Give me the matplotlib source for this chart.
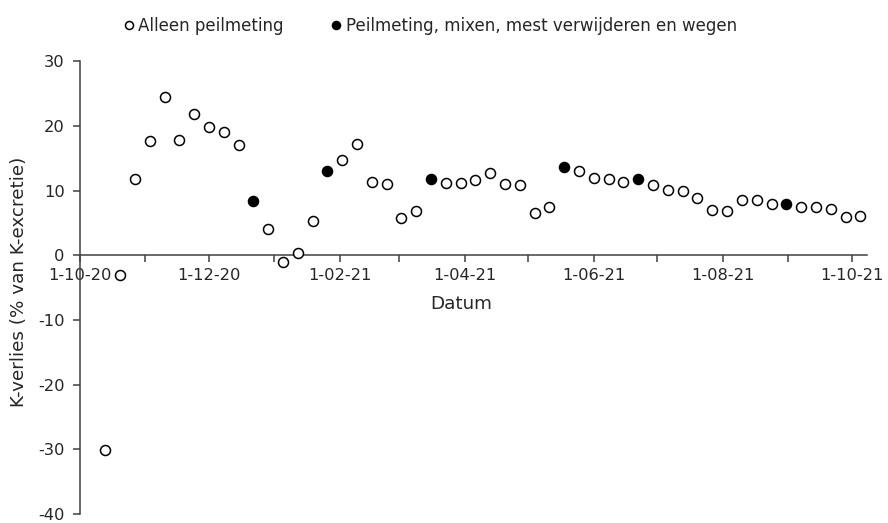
import matplotlib

matplotlib.use("Agg")
import matplotlib.pyplot as plt
import matplotlib.dates as mdates
import numpy as np
import pandas as pd

# Weekly measurements, Oct 2020 - Oct 2021
dates = [
    "2020-10-13", "2020-10-20", "2020-10-27", "2020-11-03", "2020-11-10", "2020-11-17",
    "2020-11-24", "2020-12-01", "2020-12-08", "2020-12-15", "2020-12-22", "2020-12-29",
    "2021-01-05", "2021-01-12", "2021-01-19", "2021-01-26", "2021-02-02", "2021-02-09",
    "2021-02-16", "2021-02-23", "2021-03-02", "2021-03-09", "2021-03-16", "2021-03-23",
    "2021-03-30", "2021-04-06", "2021-04-13", "2021-04-20", "2021-04-27", "2021-05-04",
    "2021-05-11", "2021-05-18", "2021-05-25", "2021-06-01", "2021-06-08", "2021-06-15",
    "2021-06-22", "2021-06-29", "2021-07-06", "2021-07-13", "2021-07-20", "2021-07-27",
    "2021-08-03", "2021-08-10", "2021-08-17", "2021-08-24", "2021-08-31", "2021-09-07",
    "2021-09-14", "2021-09-21", "2021-09-28", "2021-10-05",
]
k_loss = [
    -30.1, -3.1, 11.8, 17.7, 24.5, 17.8,
    21.8, 19.9, 19.0, 17.0, 8.4, 4.0,
    -1.0, 0.4, 5.3, 13.1, 14.8, 17.2,
    11.4, 11.0, 5.7, 6.8, 11.8, 11.1,
    11.2, 11.6, 12.7, 11.0, 10.9, 6.6,
    7.5, 13.6, 13.0, 12.0, 11.8, 11.4,
    11.8, 10.9, 10.05, 10.0, 8.8, 7.0,
    6.8, 8.5, 8.5, 8.0, 7.95, 7.5,
    7.5, 7.1, 5.9, 6.15,
]
# dates with full treatment (mixing, manure removal, weighing)
full_dates = ["2020-12-22", "2021-01-26", "2021-03-16", "2021-05-18", "2021-06-22", "2021-08-31"]

x = pd.to_datetime(dates)
y = np.array(k_loss)
full = x.isin(pd.to_datetime(full_dates))

INK = "#262626"
AXIS = "#404040"

plt.rcParams.update({"font.family": "DejaVu Sans", "font.size": 12, "text.color": INK,
                     "axes.unicode_minus": False})

fig = plt.figure(figsize=(8.88, 5.23), dpi=100)
ax = fig.add_axes([0.09, 0.017, 0.886, 0.866])

ax.plot(x[~full], y[~full], "o", ms=7.2, mfc="white", mec="black", mew=1.1,
        ls="none", label="Alleen peilmeting", clip_on=False, zorder=3)
ax.plot(x[full], y[full], "o", ms=7.2, mfc="black", mec="black", mew=1.1,
        ls="none", label="Peilmeting, mixen, mest verwijderen en wegen", clip_on=False, zorder=3)

ax.set_ylim(-40, 30)
ax.set_yticks(np.arange(-40, 31, 10))
ax.set_xlim(pd.Timestamp("2020-10-01"), pd.Timestamp("2021-10-08"))

ax.xaxis.set_major_locator(mdates.MonthLocator(bymonth=[2, 4, 6, 8, 10, 12]))
ax.xaxis.set_minor_locator(mdates.MonthLocator(bymonth=[1, 3, 5, 7, 9, 11]))
ax.xaxis.set_major_formatter(mdates.DateFormatter("1-%m-%y"))

for s in ("top", "right"):
    ax.spines[s].set_visible(False)
ax.spines["bottom"].set_position(("data", 0))
for s in ("left", "bottom"):
    ax.spines[s].set_color(AXIS)
    ax.spines[s].set_linewidth(1.1)

ax.tick_params(axis="both", which="both", direction="out", color=AXIS, width=1.1,
               labelcolor=INK, labelsize=11.7)
ax.tick_params(axis="x", which="both", length=5, pad=4)
ax.tick_params(axis="y", length=5, pad=6)

ax.set_xlabel("Datum", fontsize=13.2, color=INK)
ax.xaxis.set_label_coords(0.485, 0.484, transform=ax.transAxes)
ax.set_ylabel("K-verlies (% van K-excretie)", fontsize=13.2, color=INK)
ax.yaxis.set_label_coords(-0.066, 0.512)

fig.legend(loc="center left", bbox_to_anchor=(0.123, 0.951), ncol=2, frameon=False,
           handlelength=0.6, handletextpad=0.25, columnspacing=2.85,
           markerscale=0.8, fontsize=12)

fig.savefig("out.png", dpi=100)
